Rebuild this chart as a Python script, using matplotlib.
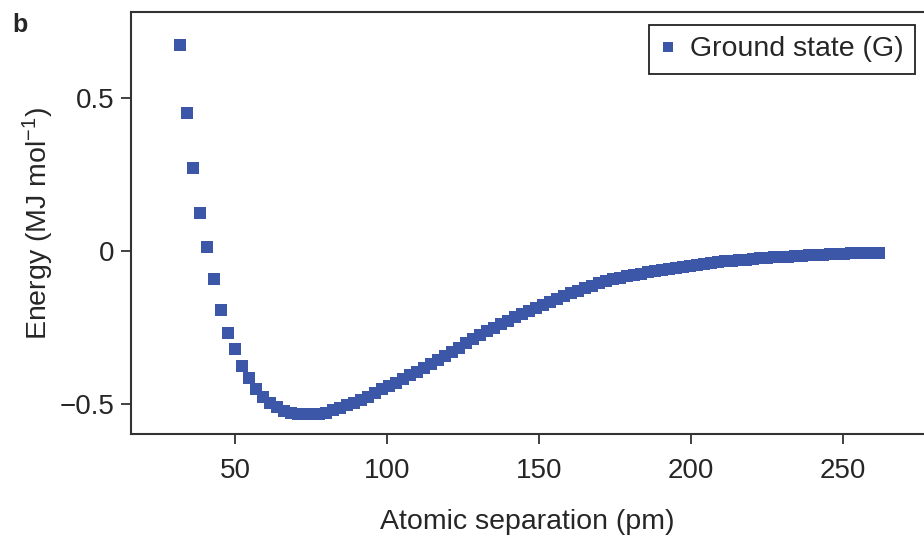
import matplotlib.pyplot as plt

plt.rcParams['font.family'] = ['Liberation Sans', 'DejaVu Sans']
plt.rcParams['mathtext.fontset'] = 'custom'
plt.rcParams['mathtext.rm'] = 'Liberation Sans'
plt.rcParams['mathtext.it'] = 'Liberation Sans'

# atomic separation (pm)
separation = [
    31.9, 34.1, 36.3, 38.6, 40.9, 43.2, 45.5, 47.8, 50.1, 52.4,
    54.7, 57.0, 59.3, 61.6, 63.9, 66.2, 68.5, 70.8, 73.1, 75.4,
    77.7, 80.0, 82.3, 84.6, 86.9, 89.2, 91.5, 93.8, 96.1, 98.4,
    100.7, 103.0, 105.3, 107.6, 109.9, 112.2, 114.5, 116.8, 119.1, 121.4,
    123.7, 126.0, 128.3, 130.6, 132.9, 135.2, 137.5, 139.8, 142.1, 144.4,
    146.7, 149.0, 151.3, 153.6, 155.9, 158.2, 160.5, 162.8, 165.1, 167.4,
    169.7, 172.0, 174.3, 176.6, 178.9, 181.2, 183.5, 185.8, 188.1, 190.4,
    192.7, 195.0, 197.3, 199.6, 201.9, 204.2, 206.5, 208.8, 211.1, 213.4,
    215.7, 218.0, 220.3, 222.6, 224.9, 227.2, 229.5, 231.8, 234.1, 236.4,
    238.7, 241.0, 243.3, 245.6, 247.9, 250.2, 252.5, 254.8, 257.1, 259.4,
    261.7,
]

# ground state energy (MJ/mol)
energy = [
    0.674, 0.450, 0.270, 0.125, 0.013, -0.093, -0.192, -0.269, -0.320, -0.375,
    -0.414, -0.450, -0.478, -0.497, -0.511, -0.523, -0.529, -0.532, -0.533, -0.533,
    -0.532, -0.528, -0.521, -0.513, -0.504, -0.496, -0.486, -0.476, -0.464, -0.451,
    -0.440, -0.430, -0.419, -0.406, -0.394, -0.382, -0.370, -0.357, -0.344, -0.330,
    -0.316, -0.302, -0.289, -0.276, -0.263, -0.251, -0.239, -0.228, -0.217, -0.206,
    -0.196, -0.186, -0.176, -0.166, -0.156, -0.146, -0.138, -0.130, -0.122, -0.114,
    -0.106, -0.099, -0.093, -0.088, -0.083, -0.078, -0.074, -0.070, -0.066, -0.062,
    -0.058, -0.055, -0.052, -0.048, -0.045, -0.042, -0.039, -0.037, -0.034, -0.032,
    -0.030, -0.028, -0.026, -0.024, -0.022, -0.020, -0.019, -0.018, -0.017, -0.015,
    -0.014, -0.013, -0.012, -0.011, -0.010, -0.009, -0.008, -0.008, -0.007, -0.007,
    -0.006,
]

x_ticks = [50, 100, 150, 200, 250]
y_ticks = [-0.5, 0, 0.5]
y_tick_labels = ['\u22120.5', '0', '0.5']

blue = '#3c57a8'
ink = '#262626'

fig = plt.figure(figsize=(9.24, 5.36), dpi=100)
ax = fig.add_axes([0.1423, 0.1903, 0.8577, 0.7873])

ax.plot(separation, energy, linestyle='none', marker='s', markersize=8,
        markeredgewidth=0, color=blue, label='Ground state (G)')

ax.set_xlim(16, 276.6)
ax.set_ylim(-0.598, 0.781)
ax.set_xticks(x_ticks)
ax.set_yticks(y_ticks)
ax.set_yticklabels(y_tick_labels)

for side in ['left', 'bottom', 'top']:
    ax.spines[side].set_color('#333333')
    ax.spines[side].set_linewidth(1.5)
ax.spines['right'].set_visible(False)

ax.tick_params(direction='out', length=7, width=1.3, color='#333333',
               labelsize=20, labelcolor=ink, pad=5)
ax.tick_params(axis='x', pad=10)

ax.set_xlabel('Atomic separation (pm)', fontsize=20.5, color=ink, labelpad=18)
ax.set_ylabel('Energy (MJ mol$^{\u22121}$)', fontsize=20.5, color=ink, labelpad=3)

leg = ax.legend(loc='upper right', bbox_to_anchor=(0.9886, 0.969), fontsize=20.5,
                markerscale=0.9, handlelength=0.55, handletextpad=0.5,
                borderpad=0.4, borderaxespad=0, fancybox=False, framealpha=1,
                labelcolor=ink)
leg.get_frame().set_edgecolor('#222222')
leg.get_frame().set_linewidth(1.3)

fig.text(0.013, 0.94, 'b', fontsize=18, fontweight='bold', color=ink,
         va='baseline')

fig.savefig('out.png', dpi=100)
